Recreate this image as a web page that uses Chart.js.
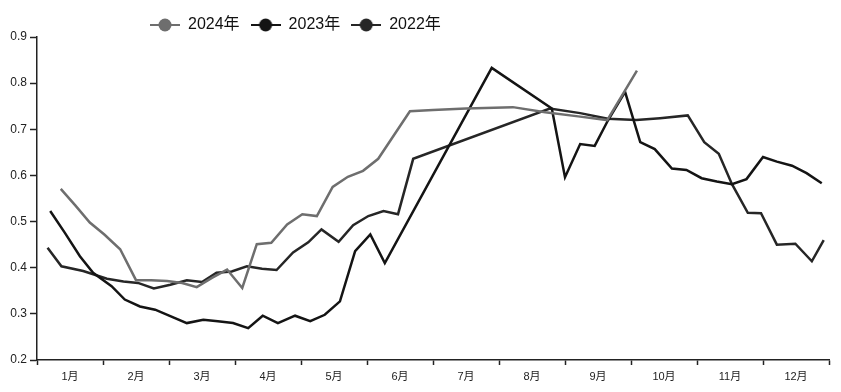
<!DOCTYPE html>
<html>
<head>
<meta charset="utf-8">
<script src="https://cdn.jsdelivr.net/npm/chart.js@4.4.1/dist/chart.umd.min.js"></script>
<style>
  html, body { margin: 0; padding: 0; background: #fff; }
  #wrap { width: 841px; height: 392px; }
</style>
</head>
<body>
<div id="wrap"><canvas id="priceChart" width="841" height="392"></canvas></div>
<script>
// month labels sit between the month tick marks
const monthLabels = ["1月", "2月", "3月", "4月", "5月", "6月", "7月", "8月", "9月", "10月", "11月", "12月"];
const seriesNames = ["2024年", "2023年", "2022年"];

// x is in months from the start of January (0 .. 12)
const x2024 = [0.36, 0.58, 0.80, 1.02, 1.26, 1.50, 1.73, 1.97, 2.20, 2.42, 2.65, 2.88, 3.11, 3.33, 3.55, 3.79, 4.02, 4.24, 4.48, 4.71, 4.94, 5.17, 5.65, 6.00, 6.50, 7.21, 7.70, 8.20, 8.64, 9.09];
const y2024 = [0.571, 0.535, 0.498, 0.472, 0.44, 0.373, 0.373, 0.371, 0.367, 0.358, 0.378, 0.396, 0.356, 0.451, 0.454, 0.494, 0.516, 0.512, 0.575, 0.597, 0.61, 0.636, 0.739, 0.742, 0.745, 0.748, 0.737, 0.728, 0.72, 0.827];

const x2023 = [0.20, 0.42, 0.65, 0.85, 1.13, 1.33, 1.56, 1.79, 2.02, 2.27, 2.52, 2.74, 2.97, 3.20, 3.42, 3.65, 3.91, 4.14, 4.36, 4.59, 4.82, 5.05, 5.27, 6.89, 7.80, 8.00, 8.23, 8.45, 8.65, 8.91, 9.14, 9.36, 9.62, 9.84, 10.07, 10.30, 10.53, 10.75, 11.00, 11.21, 11.44, 11.66, 11.89];
const y2023 = [0.523, 0.476, 0.425, 0.389, 0.36, 0.331, 0.316, 0.309, 0.295, 0.28, 0.287, 0.284, 0.28, 0.269, 0.296, 0.28, 0.296, 0.284, 0.298, 0.327, 0.436, 0.472, 0.41, 0.833, 0.745, 0.596, 0.668, 0.664, 0.719, 0.781, 0.672, 0.657, 0.615, 0.612, 0.594, 0.587, 0.581, 0.592, 0.64, 0.63, 0.621, 0.605, 0.583];

const x2022 = [0.16, 0.37, 0.70, 1.06, 1.31, 1.53, 1.77, 2.02, 2.27, 2.50, 2.72, 2.95, 3.18, 3.41, 3.63, 3.88, 4.11, 4.31, 4.57, 4.79, 5.02, 5.25, 5.47, 5.70, 7.77, 8.23, 8.65, 9.08, 9.44, 9.86, 10.11, 10.33, 10.53, 10.77, 10.97, 11.21, 11.49, 11.74, 11.92];
const y2022 = [0.443, 0.403, 0.393, 0.376, 0.37, 0.367, 0.355, 0.363, 0.373, 0.369, 0.389, 0.392, 0.403, 0.398, 0.395, 0.433, 0.455, 0.483, 0.456, 0.492, 0.512, 0.523, 0.516, 0.636, 0.745, 0.735, 0.723, 0.72, 0.724, 0.73, 0.672, 0.647, 0.581, 0.519, 0.518, 0.45, 0.452, 0.414, 0.46];

const colors = ["#6e6e6e", "#141414", "#262626"];
const FONT = '"Liberation Sans", "Noto Sans CJK SC", sans-serif';

function toPoints(xs, ys) {
    return xs.map(function (x, i) { return { x: x, y: ys[i] }; });
}

// legend marker: short line with a dot in the middle
function legendMarker(color) {
    const c = document.createElement("canvas");
    c.width = 30;
    c.height = 16;
    const g = c.getContext("2d");
    g.strokeStyle = color;
    g.lineWidth = 2;
    g.beginPath();
    g.moveTo(0, 8);
    g.lineTo(30, 8);
    g.stroke();
    g.fillStyle = color;
    g.beginPath();
    g.arc(15, 8, 6.5, 0, Math.PI * 2);
    g.fill();
    return c;
}

function makeSet(i, xs, ys) {
    return {
        label: seriesNames[i],
        data: toPoints(xs, ys),
        borderColor: colors[i],
        backgroundColor: colors[i],
        borderWidth: 2.5,
        pointRadius: 0,
        pointHoverRadius: 0,
        pointStyle: legendMarker(colors[i]),
        tension: 0,
        fill: false,
    };
}

// move the legend block to where the reference has it
const legendShift = {
    id: "legendShift",
    afterLayout(chart) {
        chart.legend.left = 139;
        chart.legend.top = 6;
    },
};

document.addEventListener("DOMContentLoaded", function () {
    const chart = new Chart(document.getElementById("priceChart"), {
        type: "line",
        data: {
            datasets: [
                makeSet(0, x2024, y2024),
                makeSet(1, x2023, y2023),
                makeSet(2, x2022, y2022),
            ],
        },
        options: {
            responsive: false,
            animation: false,
            layout: { padding: { left: 0, right: 12, top: 0, bottom: 0 } },
            plugins: {
                tooltip: { enabled: false },
                legend: {
                    position: "top",
                    align: "start",
                    labels: {
                        usePointStyle: true,
                        pointStyleWidth: 30,
                        padding: 11,
                        color: "#111",
                        font: { family: FONT, size: 16 },
                    },
                },
            },
            scales: {
                x: {
                    type: "linear",
                    min: 0,
                    max: 12,
                    afterFit(scale) { scale.height = 32; },
                    border: { display: true, color: "#222", width: 1.5 },
                    grid: {
                        drawOnChartArea: false,
                        drawTicks: true,
                        tickLength: 5,
                        tickWidth: 1.5,
                        tickColor: function (ctx) {
                            return ctx.tick && ctx.tick.value % 1 === 0 ? "#222" : "rgba(0,0,0,0)";
                        },
                    },
                    ticks: {
                        stepSize: 0.5,
                        autoSkip: false,
                        maxRotation: 0,
                        padding: 5,
                        color: "#222",
                        font: { family: FONT, size: 11 },
                        callback: function (value) {
                            return value % 1 === 0 ? "" : monthLabels[Math.floor(value)];
                        },
                    },
                },
                y: {
                    min: 0.2,
                    max: 0.9,
                    afterFit(scale) { scale.width = 37; },
                    border: { display: true, color: "#222", width: 1.5 },
                    grid: {
                        drawOnChartArea: false,
                        drawTicks: true,
                        tickLength: 7,
                        tickWidth: 1.5,
                        tickColor: "#222",
                    },
                    ticks: {
                        stepSize: 0.1,
                        padding: 3,
                        color: "#222",
                        font: { family: FONT, size: 12 },
                        callback: function (value) { return value.toFixed(1); },
                    },
                },
            },
        },
        plugins: [legendShift],
    });
});
</script>
</body>
</html>
